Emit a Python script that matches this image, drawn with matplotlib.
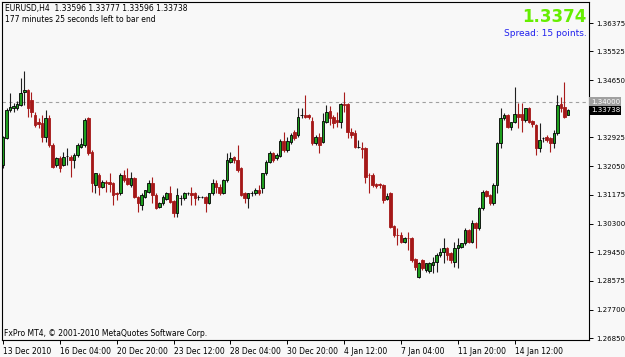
import matplotlib
matplotlib.use("Agg")
import matplotlib.pyplot as plt
import matplotlib.transforms as mtransforms
import numpy as np

# EURUSD H4 bars
opens = [1.3208, 1.3290, 1.3374, 1.3381, 1.3381, 1.3390, 1.3429, 1.3435, 1.3405, 1.3359,
         1.3338, 1.3335, 1.3293, 1.3350, 1.3269, 1.3208, 1.3229, 1.3208, 1.3235, 1.3232,
         1.3223, 1.3238, 1.3263, 1.3269, 1.3350, 1.3247, 1.3148, 1.3178, 1.3142, 1.3157,
         1.3157, 1.3154, 1.3123, 1.3123, 1.3178, 1.3169, 1.3148, 1.3169, 1.3111, 1.3087,
         1.3111, 1.3126, 1.3154, 1.3117, 1.3081, 1.3093, 1.3105, 1.3123, 1.3099, 1.3063,
         1.3108, 1.3108, 1.3123, 1.3123, 1.3123, 1.3111, 1.3111, 1.3111, 1.3093, 1.3123,
         1.3154, 1.3142, 1.3123, 1.3163, 1.3217, 1.3232, 1.3223, 1.3199, 1.3123, 1.3108,
         1.3123, 1.3123, 1.3133, 1.3139, 1.3184, 1.3217, 1.3244, 1.3229, 1.3235, 1.3281,
         1.3253, 1.3278, 1.3308, 1.3299, 1.3359, 1.3359, 1.3359, 1.3341, 1.3275, 1.3293,
         1.3278, 1.3338, 1.3371, 1.3353, 1.3344, 1.3338, 1.3393, 1.3393, 1.3308, 1.3305,
         1.3263, 1.3260, 1.3260, 1.3178, 1.3178, 1.3151, 1.3151, 1.3148, 1.3105, 1.3123,
         1.3024, 1.2996, 1.2996, 1.2975, 1.2987, 1.2987, 1.2924, 1.2869, 1.2921, 1.2891,
         1.2888, 1.2906, 1.2915, 1.2936, 1.2945, 1.2957, 1.2942, 1.2915, 1.2957, 1.2960,
         1.2972, 1.3012, 1.2975, 1.3033, 1.3018, 1.3078, 1.3130, 1.3117, 1.3093, 1.3148,
         1.3275, 1.3350, 1.3359, 1.3323, 1.3338, 1.3362, 1.3362, 1.3344, 1.3381, 1.3341,
         1.3329, 1.3260, 1.3290, 1.3293, 1.3290, 1.3275, 1.3305, 1.3393, 1.3384, 1.33596]
highs = [1.3296, 1.3381, 1.3426, 1.3396, 1.3402, 1.3471, 1.3492, 1.3438, 1.3429, 1.3368,
         1.3350, 1.3359, 1.3374, 1.3359, 1.3275, 1.3232, 1.3235, 1.3247, 1.3260, 1.3238,
         1.3244, 1.3275, 1.3290, 1.3350, 1.3353, 1.3253, 1.3184, 1.3184, 1.3163, 1.3163,
         1.3184, 1.3157, 1.3126, 1.3184, 1.3193, 1.3199, 1.3187, 1.3172, 1.3114, 1.3123,
         1.3133, 1.3163, 1.3172, 1.3123, 1.3096, 1.3117, 1.3126, 1.3145, 1.3102, 1.3139,
         1.3117, 1.3126, 1.3126, 1.3142, 1.3126, 1.3117, 1.3114, 1.3114, 1.3123, 1.3166,
         1.3163, 1.3151, 1.3166, 1.3244, 1.3247, 1.3235, 1.3269, 1.3202, 1.3126, 1.3123,
         1.3130, 1.3139, 1.3148, 1.3184, 1.3223, 1.3250, 1.3247, 1.3244, 1.3287, 1.3308,
         1.3293, 1.3305, 1.3314, 1.3381, 1.3381, 1.3420, 1.3362, 1.3353, 1.3299, 1.3305,
         1.3365, 1.3390, 1.3387, 1.3359, 1.3368, 1.3396, 1.3429, 1.3396, 1.3320, 1.3314,
         1.3284, 1.3278, 1.3263, 1.3184, 1.3184, 1.3154, 1.3154, 1.3151, 1.3123, 1.3126,
         1.3027, 1.3018, 1.3006, 1.2990, 1.3006, 1.2990, 1.2927, 1.2915, 1.2924, 1.2912,
         1.2915, 1.2930, 1.2942, 1.2957, 1.2987, 1.2960, 1.2945, 1.2975, 1.2987, 1.2972,
         1.3018, 1.3015, 1.3042, 1.3036, 1.3081, 1.3133, 1.3133, 1.3120, 1.3154, 1.3278,
         1.3381, 1.3365, 1.3362, 1.3338, 1.3444, 1.3396, 1.3396, 1.3381, 1.3384, 1.3344,
         1.3332, 1.3335, 1.3293, 1.3299, 1.3293, 1.3314, 1.3420, 1.3414, 1.3459, 1.33777]
lows = [1.3199, 1.3287, 1.3368, 1.3368, 1.3374, 1.3387, 1.3390, 1.3353, 1.3353, 1.3323,
        1.3320, 1.3278, 1.3278, 1.3263, 1.3199, 1.3202, 1.3187, 1.3205, 1.3208, 1.3172,
        1.3199, 1.3232, 1.3260, 1.3263, 1.3238, 1.3126, 1.3123, 1.3117, 1.3139, 1.3126,
        1.3126, 1.3087, 1.3102, 1.3117, 1.3157, 1.3148, 1.3142, 1.3108, 1.3066, 1.3072,
        1.3108, 1.3123, 1.3093, 1.3075, 1.3078, 1.3087, 1.3102, 1.3093, 1.3051, 1.3051,
        1.3087, 1.3102, 1.3117, 1.3087, 1.3087, 1.3102, 1.3108, 1.3066, 1.3090, 1.3117,
        1.3123, 1.3117, 1.3120, 1.3157, 1.3214, 1.3214, 1.3187, 1.3114, 1.3093, 1.3078,
        1.3114, 1.3117, 1.3117, 1.3123, 1.3178, 1.3214, 1.3217, 1.3223, 1.3232, 1.3247,
        1.3247, 1.3272, 1.3284, 1.3293, 1.3350, 1.3350, 1.3347, 1.3269, 1.3269, 1.3244,
        1.3275, 1.3335, 1.3329, 1.3320, 1.3323, 1.3320, 1.3368, 1.3290, 1.3290, 1.3260,
        1.3260, 1.3229, 1.3154, 1.3123, 1.3142, 1.3139, 1.3139, 1.3093, 1.3102, 1.3018,
        1.2990, 1.2966, 1.2972, 1.2972, 1.2951, 1.2915, 1.2891, 1.2866, 1.2891, 1.2885,
        1.2882, 1.2882, 1.2885, 1.2930, 1.2912, 1.2921, 1.2912, 1.2900, 1.2897, 1.2957,
        1.2966, 1.2972, 1.2972, 1.2957, 1.3012, 1.3072, 1.3111, 1.3087, 1.3087, 1.3123,
        1.3260, 1.3344, 1.3320, 1.3314, 1.3335, 1.3320, 1.3308, 1.3338, 1.3335, 1.3323,
        1.3238, 1.3247, 1.3278, 1.3278, 1.3247, 1.3260, 1.3299, 1.3368, 1.3350, 1.33596]
closes = [1.3293, 1.3374, 1.3384, 1.3387, 1.3393, 1.3426, 1.3435, 1.3381, 1.3368, 1.3329,
          1.3332, 1.3293, 1.3350, 1.3269, 1.3202, 1.3229, 1.3199, 1.3232, 1.3235, 1.3223,
          1.3238, 1.3269, 1.3272, 1.3344, 1.3244, 1.3154, 1.3184, 1.3142, 1.3157, 1.3154,
          1.3151, 1.3117, 1.3120, 1.3178, 1.3163, 1.3151, 1.3169, 1.3111, 1.3093, 1.3117,
          1.3133, 1.3154, 1.3117, 1.3078, 1.3093, 1.3111, 1.3123, 1.3096, 1.3063, 1.3117,
          1.3109, 1.3123, 1.3124, 1.3117, 1.3108, 1.3112, 1.3112, 1.3093, 1.3123, 1.3154,
          1.3142, 1.3123, 1.3163, 1.3223, 1.3229, 1.3223, 1.3193, 1.3117, 1.3108, 1.3123,
          1.3124, 1.3133, 1.3123, 1.3184, 1.3217, 1.3244, 1.3223, 1.3238, 1.3281, 1.3253,
          1.3281, 1.3299, 1.3290, 1.3353, 1.3360, 1.3353, 1.3353, 1.3275, 1.3293, 1.3269,
          1.3341, 1.3368, 1.3350, 1.3335, 1.3338, 1.3393, 1.3390, 1.3308, 1.3299, 1.3263,
          1.3264, 1.3257, 1.3172, 1.3177, 1.3148, 1.3145, 1.3148, 1.3102, 1.3114, 1.3021,
          1.2996, 1.2995, 1.2975, 1.2987, 1.2986, 1.2921, 1.2900, 1.2912, 1.2897, 1.2912,
          1.2912, 1.2915, 1.2936, 1.2945, 1.2957, 1.2936, 1.2921, 1.2957, 1.2966, 1.2972,
          1.3012, 1.2975, 1.3033, 1.3018, 1.3078, 1.3126, 1.3114, 1.3093, 1.3148, 1.3275,
          1.3350, 1.3359, 1.3323, 1.3338, 1.3362, 1.3353, 1.3344, 1.3381, 1.3338, 1.3332,
          1.3260, 1.3284, 1.3291, 1.3284, 1.3275, 1.3305, 1.3390, 1.3381, 1.3353, 1.33738]

date_labels = ["13 Dec 2010", "16 Dec 04:00", "20 Dec 20:00", "23 Dec 12:00", "28 Dec 04:00",
               "30 Dec 20:00", "4 Jan 12:00", "7 Jan 04:00", "11 Jan 20:00", "14 Jan 12:00"]
date_bars = [0, 16, 32, 48, 64, 80, 96, 112, 128, 144]
price_ticks = [1.26850, 1.27700, 1.28575, 1.29450, 1.30300, 1.31175,
               1.32050, 1.32925, 1.34650, 1.35525, 1.36375]
level = 1.34000
last_price = 1.33738

bg = '#f8f8f8'
fig = plt.figure(figsize=(6.25, 3.57), dpi=100, facecolor=bg)
ax = fig.add_axes([2/625, 17/357, 587/625, 338/357], facecolor=bg)

o = np.array(opens)
h = np.array(highs)
l = np.array(lows)
c = np.array(closes)
idx = np.arange(len(c))
up = c >= o
dn = ~up

ax.vlines(idx[up], l[up], h[up], color='#202020', lw=0.8, zorder=2)
ax.vlines(idx[dn], l[dn], h[dn], color='#a81c1c', lw=0.8, zorder=2)
ax.bar(idx[up], np.maximum(c[up]-o[up], 0.00003), bottom=o[up], width=0.72,
       color='#1e9e1e', edgecolor='black', lw=0.6, zorder=3)
ax.bar(idx[dn], o[dn]-c[dn], bottom=c[dn], width=0.72,
       color='#a51818', edgecolor='#a51818', lw=0.6, zorder=3)

ax.axhline(level, color='#a0a0a0', lw=0.8, ls=(0, (3, 3)), zorder=1)

ax.set_xlim(-0.28, 164.9)
ax.set_ylim(1.2679, 1.3701)

ax.yaxis.tick_right()
ax.set_yticks(price_ticks)
ax.set_yticklabels(['%.5f' % v for v in price_ticks])
ax.set_xticks(date_bars)
ax.set_xticklabels(date_labels)
for lab in ax.get_xticklabels():
    lab.set_ha('left')
ax.tick_params(axis='x', labelsize=5.5, length=3, width=0.7, color='black', pad=2)
ax.tick_params(axis='y', labelsize=5.0, length=3, width=0.7, color='black', pad=2)
for s in ax.spines.values():
    s.set_color('black')
    s.set_linewidth(0.8)

trans = mtransforms.blended_transform_factory(ax.transAxes, ax.transData)
ax.text(1.003, level, '1.34000', transform=trans, fontsize=5.0, color='white', va='center',
        bbox=dict(facecolor='#a0a0a0', edgecolor='none', pad=1.0))
ax.text(1.003, last_price, '%.5f' % last_price, transform=trans, fontsize=5.0, color='white',
        va='center', bbox=dict(facecolor='black', edgecolor='none', pad=1.0))

fig.text(5/625, 1-9/357, 'EURUSD,H4  1.33596 1.33777 1.33596 1.33738', fontsize=5.5, va='center')
fig.text(5/625, 1-19/357, '177 minutes 25 seconds left to bar end', fontsize=5.5, va='center')
fig.text(587/625, 1-17/357, '1.3374', fontsize=12, fontweight='bold', color='#66ee00',
         ha='right', va='center')
fig.text(587/625, 1-33/357, 'Spread: 15 points.', fontsize=6.5, color='#2222ee',
         ha='right', va='center')
ax.text(0.004, 0.018, 'FxPro MT4, \u00a9 2001-2010 MetaQuotes Software Corp.', transform=ax.transAxes,
        fontsize=5.5, va='center')

fig.savefig('out.png', dpi=100, facecolor=bg)
